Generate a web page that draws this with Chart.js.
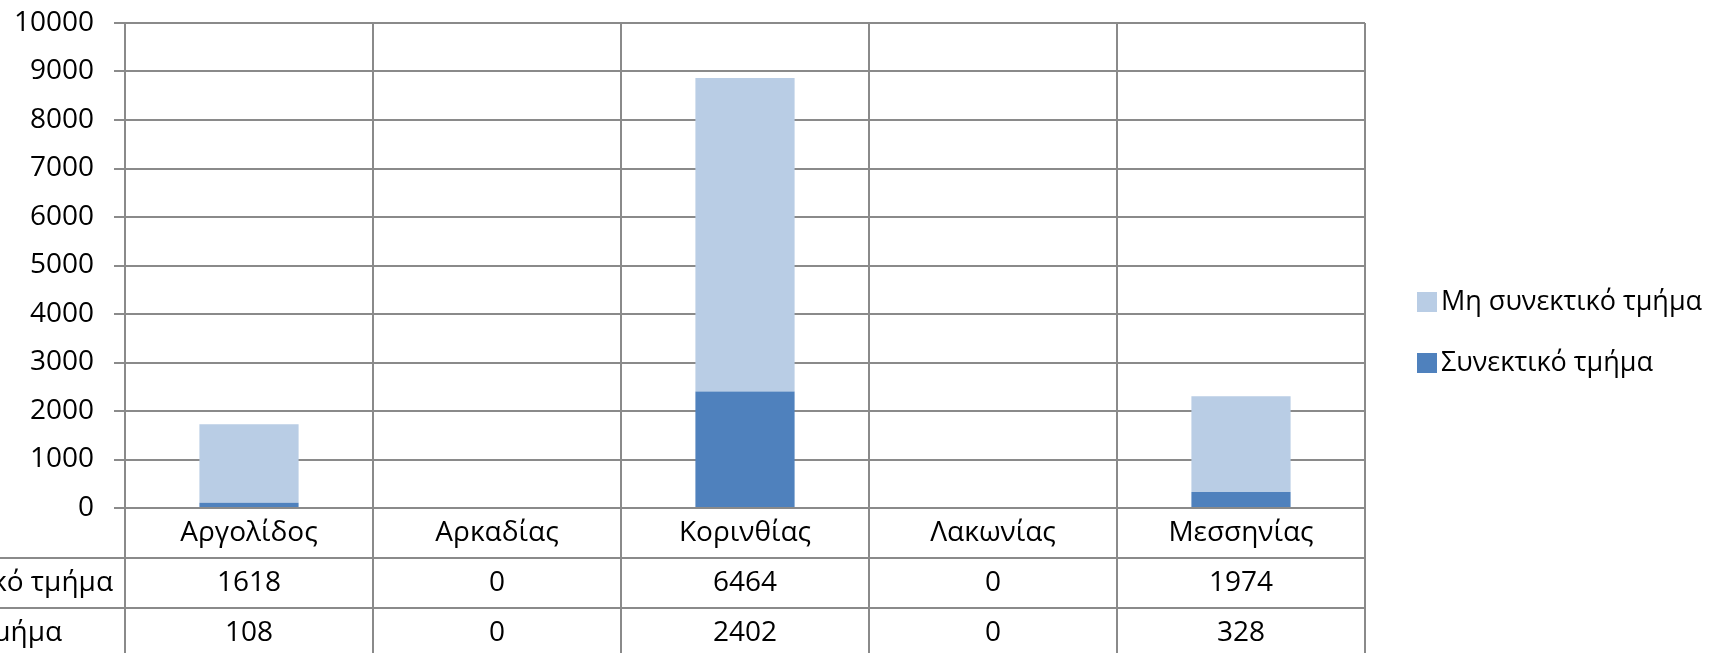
<!DOCTYPE html>
<html>
<head>
<meta charset="utf-8">
<script src="https://cdn.jsdelivr.net/npm/chart.js@4/dist/chart.umd.min.js"></script>
<style>
html, body { margin: 0; padding: 0; background: #fff; overflow: hidden; }
#wrap { width: 1715px; height: 653px; }
</style>
</head>
<body>
<div id="wrap"><canvas id="c"></canvas></div>
<script>
'use strict';

// data
const categories = ['Αργολίδος', 'Αρκαδίας', 'Κορινθίας', 'Λακωνίας', 'Μεσσηνίας'];
const seriesNames = ['Μη συνεκτικό τμήμα', 'Συνεκτικό τμήμα'];
const nonCohesive = [1618, 0, 6464, 0, 1974];
const cohesive = [108, 0, 2402, 0, 328];
const yMax = 10000;
const yStep = 1000;

const lightBlue = '#B9CDE5';
const darkBlue = '#4F81BD';
const gridColor = '#8a8a8a';
const fontFamily = '"Open Sans", "Noto Sans", sans-serif';
const fontSize = 28;

// legend + data table under the plot
const tablePlugin = {
	id: 'dataTable',
	afterDraw(chart) {
		const ctx = chart.ctx;
		const a = chart.chartArea;
		const xs = chart.scales.x;
		const colW = (a.right - a.left) / categories.length;
		const rowH = 50;
		const rows = [[seriesNames[0], nonCohesive], [seriesNames[1], cohesive]];

		ctx.save();
		ctx.strokeStyle = gridColor;
		ctx.lineWidth = 2;
		ctx.beginPath();
		for (let i = 0; i <= categories.length; i++) {
			const px = a.left + i * colW;
			ctx.moveTo(px, a.bottom);
			ctx.lineTo(px, chart.height);
		}
		for (let r = 1; r <= rows.length; r++) {
			ctx.moveTo(0, a.bottom + r * rowH);
			ctx.lineTo(a.right, a.bottom + r * rowH);
		}
		ctx.stroke();

		ctx.font = fontSize + 'px ' + fontFamily;
		ctx.fillStyle = '#000';
		ctx.textAlign = 'center';
		ctx.textBaseline = 'middle';
		categories.forEach((c, i) => {
			ctx.fillText(c, xs.getPixelForValue(i), a.bottom + rowH / 2);
		});
		rows.forEach((row, r) => {
			row[1].forEach((v, i) => {
				ctx.fillText(String(v), xs.getPixelForValue(i), a.bottom + (r + 1.5) * rowH);
			});
		});

		// row headers, cut at the left edge like the original
		ctx.textAlign = 'left';
		const x0 = 113 - ctx.measureText(rows[0][0]).width;
		rows.forEach((row, r) => {
			ctx.fillText(row[0], x0, a.bottom + (r + 1.5) * rowH);
		});

		// legend
		ctx.font = '27px ' + fontFamily;
		const items = [[seriesNames[0], lightBlue], [seriesNames[1], darkBlue]];
		items.forEach((it, k) => {
			const cy = 302 + k * 61;
			ctx.fillStyle = it[1];
			ctx.fillRect(1417, cy - 10, 20, 20);
			ctx.fillStyle = '#000';
			ctx.fillText(it[0], 1441, cy);
		});
		ctx.restore();
	}
};

const config = {
	type: 'bar',
	data: {
		labels: categories,
		datasets: [
			{ label: seriesNames[1], data: cohesive, backgroundColor: darkBlue },
			{ label: seriesNames[0], data: nonCohesive, backgroundColor: lightBlue }
		]
	},
	options: {
		responsive: true,
		maintainAspectRatio: false,
		animation: false,
		layout: { padding: { top: 23, right: 350, left: 0, bottom: 0 } },
		datasets: { bar: { categoryPercentage: 1, barPercentage: 0.4 } },
		plugins: { legend: { display: false }, tooltip: { enabled: false } },
		scales: {
			x: {
				stacked: true,
				offset: true,
				grid: { color: gridColor, lineWidth: 2, offset: true, drawTicks: false },
				border: { color: gridColor, width: 2 },
				ticks: { display: false },
				afterFit(s) { s.height = 145; }
			},
			y: {
				stacked: true,
				min: 0,
				max: yMax,
				ticks: {
					stepSize: yStep,
					padding: 20,
					color: '#000',
					font: { family: fontFamily, size: fontSize },
					callback: (v) => String(v)
				},
				grid: { color: gridColor, lineWidth: 2, tickLength: 11 },
				border: { color: gridColor, width: 2 },
				afterFit(s) {
					s.width = 125;
					s.paddingTop = 0;
					s.paddingBottom = 0;
				}
			}
		}
	},
	plugins: [tablePlugin]
};

new Chart(document.getElementById('c'), config);
</script>
</body>
</html>
